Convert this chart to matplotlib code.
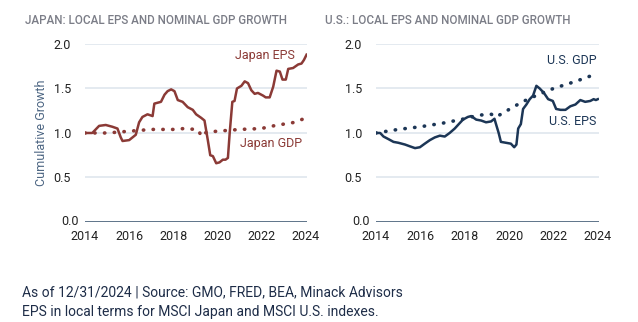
import numpy as np
import matplotlib.pyplot as plt

plt.rcParams['font.family'] = ['Roboto', 'DejaVu Sans']

# Japan: cumulative growth (2014 = 1.0)
jp_eps_t = [2014.0, 2014.33, 2014.64, 2014.94, 2015.24, 2015.47, 2015.62, 2015.70, 2016.0, 2016.15,
            2016.3, 2016.45, 2016.6, 2016.83, 2017.06, 2017.14, 2017.44, 2017.6, 2017.74, 2017.9,
            2018.05, 2018.2, 2018.42, 2018.65, 2018.88, 2019.03, 2019.26, 2019.41, 2019.56, 2019.67,
            2019.79, 2019.94, 2020.09, 2020.24, 2020.36, 2020.47, 2020.55, 2020.67, 2020.77, 2020.88,
            2021.08, 2021.23, 2021.38, 2021.53, 2021.68, 2021.83, 2022.06, 2022.18, 2022.36, 2022.52,
            2022.67, 2022.82, 2022.94, 2023.09, 2023.2, 2023.42, 2023.65, 2023.8, 2023.91, 2024.03]
jp_eps = [1.00, 1.00, 1.08, 1.09, 1.07, 1.05, 0.95, 0.91, 0.92, 0.95,
          0.98, 1.12, 1.18, 1.21, 1.19, 1.33, 1.35, 1.43, 1.47, 1.49,
          1.47, 1.37, 1.35, 1.29, 1.26, 1.21, 1.17, 1.14, 0.92, 0.75,
          0.74, 0.66, 0.67, 0.70, 0.70, 0.72, 1.00, 1.35, 1.36, 1.50,
          1.53, 1.58, 1.56, 1.48, 1.44, 1.45, 1.42, 1.40, 1.40, 1.52,
          1.70, 1.69, 1.60, 1.60, 1.72, 1.73, 1.77, 1.78, 1.82, 1.88]

jp_gdp_t = [2014.0, 2015.0, 2015.5, 2016.0, 2016.5, 2017.0, 2018.0, 2018.5, 2019.0, 2019.15,
            2019.26, 2019.5, 2020.0, 2021.0, 2022.0, 2022.3, 2023.0, 2023.5, 2024.0]
jp_gdp = [1.00, 1.00, 1.01, 1.02, 1.03, 1.04, 1.04, 1.05, 1.04, 1.03,
          0.96, 1.01, 1.02, 1.04, 1.05, 1.07, 1.10, 1.12, 1.17]

# U.S.: cumulative growth (2014 = 1.0)
us_eps_t = [2014.0, 2014.19, 2014.34, 2014.57, 2014.79, 2015.01, 2015.31, 2015.53, 2015.76, 2015.98,
            2016.2, 2016.43, 2016.65, 2016.88, 2017.1, 2017.32, 2017.55, 2017.77, 2017.92, 2018.14,
            2018.29, 2018.52, 2018.74, 2018.96, 2019.19, 2019.34, 2019.41, 2019.53, 2019.63, 2019.86,
            2020.08, 2020.23, 2020.33, 2020.41, 2020.53, 2020.63, 2020.78, 2020.93, 2021.08, 2021.23,
            2021.38, 2021.57, 2021.76, 2021.97, 2022.12, 2022.32, 2022.54, 2022.76, 2022.99, 2023.21,
            2023.43, 2023.66, 2023.81, 2023.91, 2024.0]
us_eps = [1.00, 1.00, 0.96, 0.93, 0.90, 0.89, 0.87, 0.85, 0.83, 0.84,
          0.88, 0.92, 0.95, 0.97, 0.96, 1.00, 1.05, 1.11, 1.15, 1.18,
          1.19, 1.15, 1.14, 1.12, 1.13, 1.16, 1.10, 1.00, 0.90, 0.89,
          0.88, 0.84, 0.87, 1.05, 1.10, 1.27, 1.32, 1.38, 1.42, 1.53,
          1.50, 1.45, 1.38, 1.36, 1.27, 1.26, 1.26, 1.30, 1.32, 1.37,
          1.35, 1.36, 1.38, 1.37, 1.38]

us_gdp_t = [2014.0, 2015.0, 2016.0, 2017.0, 2018.0, 2018.6, 2019.2, 2019.4, 2019.7, 2020.1,
            2020.6, 2021.3, 2022.0, 2023.0, 2024.0]
us_gdp = [1.00, 1.04, 1.07, 1.11, 1.16, 1.20, 1.21, 1.18, 1.22, 1.28,
          1.35, 1.43, 1.50, 1.58, 1.67]

years = [2014, 2016, 2018, 2020, 2022, 2024]
yticks = [0.5, 1.0, 1.5, 2.0]

JP = '#8b3a36'
US = '#1c3656'
GRID = '#dfe6ee'
TITLE = '#7b7d87'

W, H = 638, 322


def px(x, y):
    # pixel position (from top-left) -> figure fraction
    return x / W, 1 - y / H


fig = plt.figure(figsize=(6.38, 3.22), dpi=100)
ax1 = fig.add_axes([0.1332, 0.3106, 0.348, 0.5528])
ax2 = fig.add_axes([0.5893, 0.3106, 0.3495, 0.5528])

for ax in (ax1, ax2):
    ax.set_xlim(2014, 2024.05)
    ax.set_ylim(0, 2.0)
    ax.set_yticks(yticks)
    ax.set_yticklabels(['%.1f' % v for v in yticks])
    ax.yaxis.grid(True, color=GRID, lw=1.2)
    ax.set_axisbelow(True)
    ax.axhline(0, color='#2e4a66', lw=1.8, zorder=1)
    ax.text(-0.03, 0.0, '0.0', transform=ax.transAxes, ha='right', va='center',
            fontsize=9, color='#222222')
    ax.set_xticks(years)
    ax.tick_params(length=0, labelsize=9, labelcolor='#222222', pad=6)
    ax.tick_params(axis='y', pad=10)
    for s in ax.spines.values():
        s.set_visible(False)

ax1.plot(jp_eps_t, jp_eps, color=JP, lw=1.8)
ax1.plot(jp_gdp_t, jp_gdp, color=JP, lw=2.6, linestyle=(0, (0.1, 2.6)), dash_capstyle='round')
fig.text(*px(295, 55), 'Japan EPS', ha='right', va='center', fontsize=9, color=JP)
fig.text(*px(302, 144), 'Japan GDP', ha='right', va='center', fontsize=9, color=JP)
ax1.set_ylabel('Cumulative Growth', fontsize=9, color='#4d6683', labelpad=4)

ax2.plot(us_eps_t, us_eps, color=US, lw=1.8)
ax2.plot(us_gdp_t, us_gdp, color=US, lw=2.6, linestyle=(0, (0.1, 2.6)), dash_capstyle='round')
fig.text(*px(597, 60), 'U.S. GDP', ha='right', va='center', fontsize=9, color=US)
fig.text(*px(596, 122), 'U.S. EPS', ha='right', va='center', fontsize=9, color=US)

fig.text(*px(25, 20), 'JAPAN: LOCAL EPS AND NOMINAL GDP GROWTH', ha='left', va='center',
         fontsize=8.4, color=TITLE, fontweight='medium')
fig.text(*px(325, 20), 'U.S.: LOCAL EPS AND NOMINAL GDP GROWTH', ha='left', va='center',
         fontsize=8.4, color=TITLE, fontweight='medium')

fig.text(*px(22, 292), 'As of 12/31/2024 | Source: GMO, FRED, BEA, Minack Advisors',
         ha='left', va='center', fontsize=10, color='#1e2d48')
fig.text(*px(22, 312), 'EPS in local terms for MSCI Japan and MSCI U.S. indexes.',
         ha='left', va='center', fontsize=10, color='#1e2d48')

fig.savefig('out.png', dpi=100)
